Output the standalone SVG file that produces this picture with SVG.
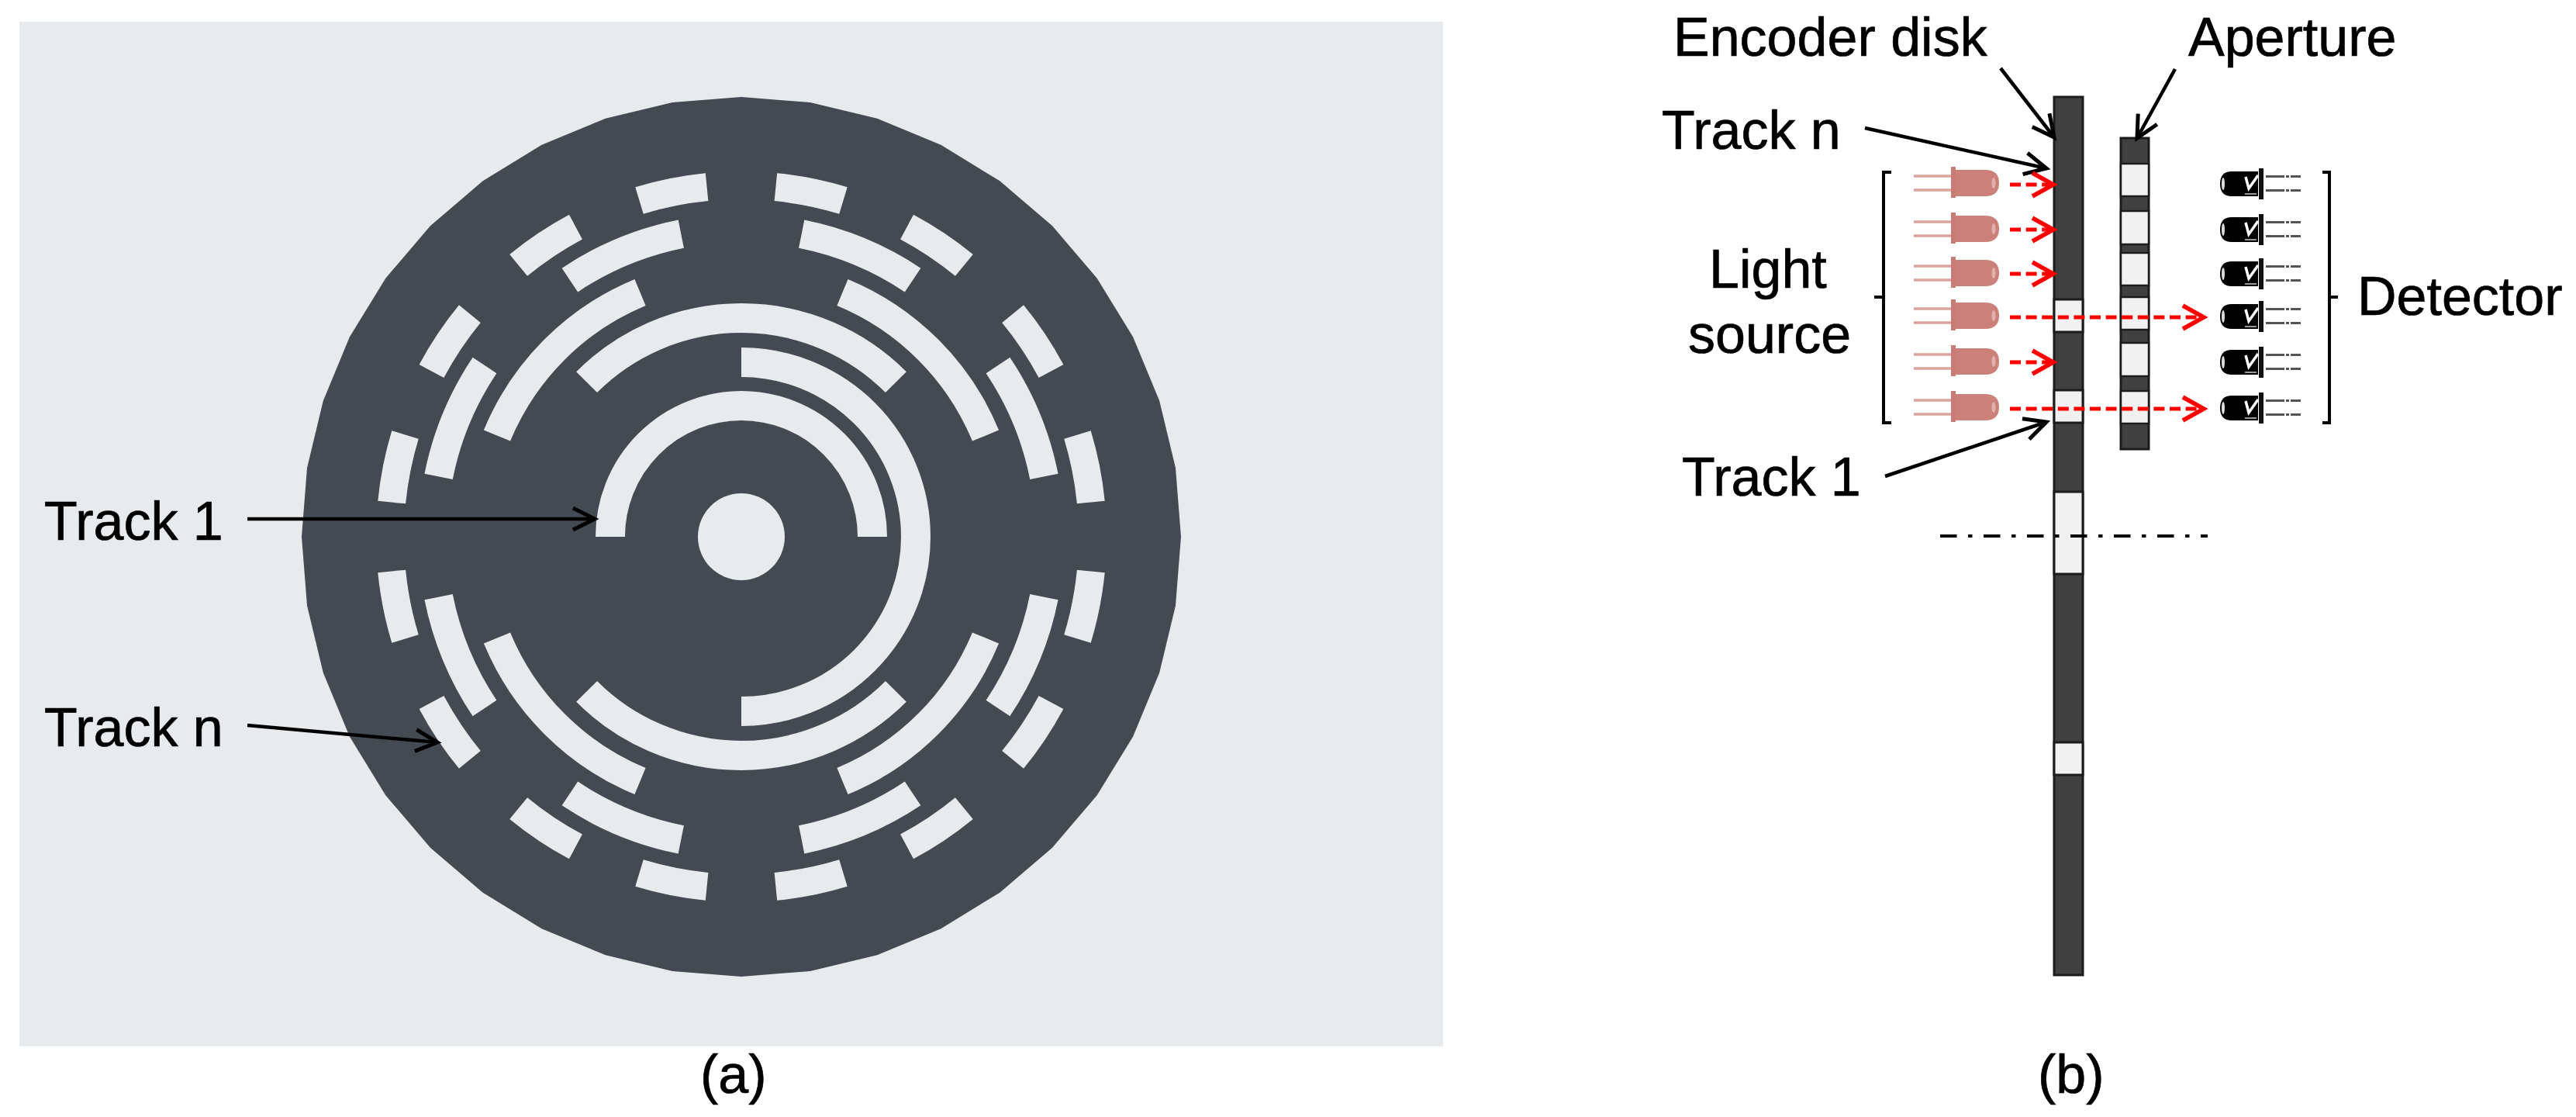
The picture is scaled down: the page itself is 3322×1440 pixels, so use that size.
<svg xmlns="http://www.w3.org/2000/svg" xmlns:xlink="http://www.w3.org/1999/xlink" width="3322" height="1440" viewBox="0 0 3322 1440">
<style>
text{font-family:"Liberation Sans",Arial,sans-serif;font-size:70px;fill:#000;stroke:#000;stroke-width:.7}
.ring{fill:none;stroke:#e8ebee}
.bar{fill:#404040;stroke:#1c1c1c;stroke-width:3}
.gap{fill:#f1f1f1;stroke:#1c1c1c;stroke-width:3}
.gapa{fill:#f1f1f1;stroke:#1c1c1c;stroke-width:2.5}
.blk{fill:none;stroke:#000;stroke-width:4.5;marker-end:url(#ah)}
.red{fill:none;stroke:#f00;stroke-width:5;stroke-dasharray:14 6.6;marker-end:url(#ar)}
.br{fill:none;stroke:#000;stroke-width:4}
</style>
<defs>
<marker id="ah" markerUnits="userSpaceOnUse" markerWidth="40" markerHeight="40" refX="32" refY="20" orient="auto" overflow="visible"><path d="M4,6 L32,20 L4,34" fill="none" stroke="#000" stroke-width="5"/></marker>
<marker id="ar" markerUnits="userSpaceOnUse" markerWidth="40" markerHeight="40" refX="32" refY="20" orient="auto" overflow="visible"><path d="M5,5 L32,20 L5,35" fill="none" stroke="#f00" stroke-width="5.5"/></marker>
<path id="a6" d="M450.8,-44.4A453,453 0 0 1 450.8,44.4" class="ring" stroke-width="36"/>
<path id="a5" d="M390.4,-77.6A398,398 0 0 1 390.4,77.6" class="ring" stroke-width="37"/>
<path id="a4" d="M315,-130.5A341,341 0 0 1 315,130.5" class="ring" stroke-width="37"/>
<path id="a3" d="M199.4,-199.4A282,282 0 0 1 199.4,199.4" class="ring" stroke-width="38"/>
<g id="led">
<path d="M-48,-9H0M-48,9H0" stroke="#dca5a0" stroke-width="3.5" fill="none"/>
<rect x="0" y="-21" width="6" height="40" fill="#c97b75"/>
<path d="M6,-17H44Q62,-17 62,0Q62,17 44,17H6Z" fill="#cc807a"/>
<ellipse cx="55" cy="0" rx="2.5" ry="7" fill="#e2b0ab"/>
</g>
<g id="det">
<path d="M50,-16H16Q1,-16 1,0Q1,16 16,16H50Z" fill="#000"/>
<ellipse cx="5" cy="0" rx="2" ry="8" fill="#ddd"/>
<rect x="51" y="-20" width="6" height="40" fill="#111"/>
<path d="M34,-9L38,6L50,-11" fill="none" stroke="#fff" stroke-width="3.5"/>
<path d="M33,13H48" stroke="#999" stroke-width="2"/>
<path d="M60,-9.5H105M60,8.5H105" stroke="#555" stroke-width="3" stroke-dasharray="24 2 4 2 13 0" fill="none"/>
</g>
</defs>
<rect width="3322" height="1440" fill="#fff"/>

<g id="panel-a">
<rect x="25" y="28" width="1836" height="1321" fill="#e8ebee"/>
</g>
<g id="encoder-disk-face">
<g transform="translate(956 692)">
<polygon fill="#434a52" points="0,-567 88.7,-560 175.2,-539.2 257.4,-505.2 333.3,-458.7 400.9,-400.9 458.7,-333.3 505.2,-257.4 539.2,-175.2 560,-88.7 567,0 560,88.7 539.2,175.2 505.2,257.4 458.7,333.3 400.9,400.9 333.3,458.7 257.4,505.2 175.2,539.2 88.7,560 0,567 -88.7,560 -175.2,539.2 -257.4,505.2 -333.3,458.7 -400.9,400.9 -458.7,333.3 -505.2,257.4 -539.2,175.2 -560,88.7 -567,0 -560,-88.7 -539.2,-175.2 -505.2,-257.4 -458.7,-333.3 -400.9,-400.9 -333.3,-458.7 -257.4,-505.2 -175.2,-539.2 -88.7,-560"/>
<circle r="56" fill="#e8ebee"/>
<path id="track-1" class="ring" stroke-width="38" d="M-169,0A169,169 0 0 1 169,0"/>
<path id="track-2" class="ring" stroke-width="38" d="M0,-225A225,225 0 0 1 0,225"/>
<g id="track-3"><use href="#a3" transform="rotate(90)"/><use href="#a3" transform="rotate(270)"/></g>
<g id="track-4"><use href="#a4" transform="rotate(45)"/><use href="#a4" transform="rotate(135)"/><use href="#a4" transform="rotate(225)"/><use href="#a4" transform="rotate(315)"/></g>
<g id="track-5"><use href="#a5" transform="rotate(22.5)"/><use href="#a5" transform="rotate(67.5)"/><use href="#a5" transform="rotate(112.5)"/><use href="#a5" transform="rotate(157.5)"/><use href="#a5" transform="rotate(202.5)"/><use href="#a5" transform="rotate(247.5)"/><use href="#a5" transform="rotate(292.5)"/><use href="#a5" transform="rotate(337.5)"/></g>
<g id="track-6"><use href="#a6" transform="rotate(11.25)"/><use href="#a6" transform="rotate(33.75)"/><use href="#a6" transform="rotate(56.25)"/><use href="#a6" transform="rotate(78.75)"/><use href="#a6" transform="rotate(101.25)"/><use href="#a6" transform="rotate(123.75)"/><use href="#a6" transform="rotate(146.25)"/><use href="#a6" transform="rotate(168.75)"/><use href="#a6" transform="rotate(191.25)"/><use href="#a6" transform="rotate(213.75)"/><use href="#a6" transform="rotate(236.25)"/><use href="#a6" transform="rotate(258.75)"/><use href="#a6" transform="rotate(281.25)"/><use href="#a6" transform="rotate(303.75)"/><use href="#a6" transform="rotate(326.25)"/><use href="#a6" transform="rotate(348.75)"/></g>
</g>
</g>
<g id="label-a-track1"><text x="57" y="696">Track 1</text></g>
<g id="label-a-trackn"><text x="57" y="962">Track n</text></g>
<g id="caption-a"><text x="903" y="1409">(a)</text></g>

<g id="disk-section">
<rect class="bar" x="2649" y="125" width="37" height="1132"/>
<rect class="gap" x="2649" y="386" width="37" height="42"/>
<rect class="gap" x="2649" y="503" width="37" height="42"/>
<rect class="gap" x="2649" y="634" width="37" height="106"/>
<rect class="gap" x="2649" y="957" width="37" height="42"/>
</g>
<g id="aperture-section">
<rect class="bar" x="2735" y="178" width="36" height="401"/>
<rect class="gapa" x="2735" y="211" width="36" height="42"/>
<rect class="gapa" x="2735" y="272" width="36" height="43"/>
<rect class="gapa" x="2735" y="326" width="36" height="42"/>
<rect class="gapa" x="2735" y="383" width="36" height="42"/>
<rect class="gapa" x="2735" y="442" width="36" height="43"/>
<rect class="gapa" x="2735" y="504" width="36" height="42"/>
</g>

<g id="led-1" transform="translate(2516 236)"><use href="#led"/></g>
<g id="led-2" transform="translate(2516 295)"><use href="#led"/></g>
<g id="led-3" transform="translate(2516 352)"><use href="#led"/></g>
<g id="led-4" transform="translate(2516 407)"><use href="#led"/></g>
<g id="led-5" transform="translate(2516 466)"><use href="#led"/></g>
<g id="led-6" transform="translate(2516 525)"><use href="#led"/></g>

<g id="det-1" transform="translate(2862 237)"><use href="#det"/></g>
<g id="det-2" transform="translate(2862 296)"><use href="#det"/></g>
<g id="det-3" transform="translate(2862 353)"><use href="#det"/></g>
<g id="det-4" transform="translate(2862 408)"><use href="#det"/></g>
<g id="det-5" transform="translate(2862 467)"><use href="#det"/></g>
<g id="det-6" transform="translate(2862 526)"><use href="#det"/></g>

<g id="bracket-left"><path class="br" d="M2439,222H2429V545H2439M2417,383H2429"/></g>
<g id="bracket-right"><path class="br" d="M2995,222H3004V545H2995M3004,383H3015"/></g>

<g id="labels-b">
<text x="2158" y="72">Encoder disk</text>
<text x="2822" y="72">Aperture</text>
<text x="2143" y="192">Track n</text>
<text x="2204" y="371">Light</text>
<text x="2177" y="455">source</text>
<text x="3040" y="406">Detector</text>
<text x="2169" y="639">Track 1</text>
<text x="2628" y="1409">(b)</text>
</g>

<g id="connectors">
<line class="blk" x1="319" y1="669" x2="767" y2="669"/>
<line class="blk" x1="319" y1="935" x2="564" y2="957"/>
<line class="blk" x1="2580" y1="88" x2="2649" y2="177"/>
<line class="blk" x1="2805" y1="89" x2="2756" y2="178"/>
<line class="blk" x1="2405" y1="165" x2="2639" y2="217"/>
<line class="blk" x1="2431" y1="614" x2="2639" y2="544"/>
<line class="red" x1="2592" y1="238" x2="2648" y2="238"/>
<line class="red" x1="2592" y1="296" x2="2648" y2="296"/>
<line class="red" x1="2592" y1="353" x2="2648" y2="353"/>
<line class="red" x1="2592" y1="409" x2="2842" y2="409"/>
<line class="red" x1="2592" y1="467" x2="2648" y2="467"/>
<line class="red" x1="2592" y1="527" x2="2842" y2="527"/>
<path d="M2502,691H2847" fill="none" stroke="#000" stroke-width="4" stroke-dasharray="21.5 14.5 5.5 14.5"/>
</g>
</svg>
